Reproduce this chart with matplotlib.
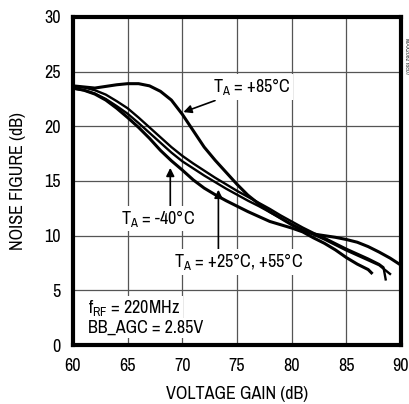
import matplotlib
matplotlib.use("Agg")
import matplotlib.pyplot as plt
import numpy as np

plt.rcParams["font.family"] = ["Nimbus Sans Narrow", "Liberation Sans Narrow",
                               "Archivo Narrow", "Liberation Sans", "DejaVu Sans"]

# noise figure vs voltage gain
gain_85 = [60, 61, 62, 63, 64, 65, 66, 67, 68, 69, 70, 71, 72, 73, 74, 75, 76, 77,
           78, 79, 80, 81, 82, 83, 84, 85, 86, 87, 88, 89, 90]
nf_85 = [23.7, 23.6, 23.5, 23.65, 23.8, 23.9, 23.9, 23.7, 23.2, 22.4, 21.1, 19.6,
         18.1, 16.9, 15.8, 14.7, 13.7, 12.9, 12.2, 11.6, 11.0, 10.5, 10.15, 10.0,
         9.85, 9.65, 9.4, 9.0, 8.5, 7.95, 7.3]

gain_25 = [60, 61, 62, 63, 64, 65, 66, 67, 68, 69, 70, 71, 72, 73, 74, 75, 76, 77,
           78, 79, 80, 81, 82, 83, 84, 85, 86, 87, 88, 88.4, 88.6]
nf_25 = [23.7, 23.55, 23.3, 22.9, 22.3, 21.65, 20.8, 19.9, 19.0, 18.1, 17.3,
         16.6, 15.95, 15.3, 14.7, 14.1, 13.55, 13.0, 12.45, 11.85, 11.3, 10.75,
         10.25, 9.8, 9.3, 8.8, 8.35, 7.9, 7.4, 7.1, 6.0]

gain_55 = [60, 61, 62, 63, 64, 65, 66, 67, 68, 69, 70, 71, 72, 73, 74, 75, 76, 77,
           78, 79, 80, 81, 82, 83, 84, 85, 86, 87, 88, 88.5, 89.0]
nf_55 = [23.45, 23.3, 23.0, 22.5, 21.85, 21.15, 20.3, 19.4, 18.5, 17.6, 16.8,
         16.15, 15.5, 14.9, 14.3, 13.75, 13.2, 12.7, 12.15, 11.6, 11.05, 10.55,
         10.1, 9.65, 9.15, 8.65, 8.2, 7.75, 7.3, 6.9, 6.5]

gain_m40 = [60, 61, 62, 63, 64, 65, 66, 67, 68, 69, 70, 71, 72, 73, 74, 75, 76,
            77, 78, 79, 80, 81, 82, 83, 84, 85, 86, 87, 87.3]
nf_m40 = [23.5, 23.3, 22.95, 22.4, 21.65, 20.8, 19.9, 18.9, 17.8, 16.85, 16.0, 15.1,
          14.35, 13.75, 13.2, 12.7, 12.2, 11.75, 11.3, 11.0, 10.7, 10.35, 9.8, 9.3,
          8.7, 8.0, 7.4, 6.9, 6.6]

xticks = [60, 65, 70, 75, 80, 85, 90]
yticks = [0, 5, 10, 15, 20, 25, 30]


def main():
    fig = plt.figure(figsize=(4.10, 4.04), dpi=100)
    ax = fig.add_axes([0.178, 0.146, 0.800, 0.812])

    for gx, ny in [(gain_85, nf_85), (gain_m40, nf_m40)]:
        ax.plot(gx, ny, color="black", linewidth=2.2, zorder=3)
    # 25/55 degC traces, close together like a double line
    for gx, ny in [(gain_25, nf_25), (gain_55, nf_55)]:
        ax.plot(gx, ny, color="black", linewidth=1.7, zorder=3)

    ax.set_xlim(60, 90)
    ax.set_ylim(0, 30)
    ax.set_xticks(xticks)
    ax.set_yticks(yticks)
    ax.grid(True, color="#555555", linewidth=0.9)
    ax.set_axisbelow(True)
    ax.tick_params(axis="both", length=0, labelsize=13, pad=9)
    for sp in ax.spines.values():
        sp.set_linewidth(3)
    ax.set_xlabel("VOLTAGE GAIN (dB)", fontsize=13, labelpad=9)
    ax.set_ylabel("NOISE FIGURE (dB)", fontsize=13, labelpad=13)

    box = dict(facecolor="white", edgecolor="none", pad=1.5)
    arrow = dict(arrowstyle="-|>", color="black", linewidth=1.2, mutation_scale=12)

    ax.annotate("T$_\\mathregular{A}$ = +85°C", xy=(70.1, 21.3), xytext=(76.4, 23.6),
                ha="center", va="center", fontsize=13, bbox=box,
                arrowprops=dict(arrow, shrinkA=2, shrinkB=0), zorder=5)
    ax.annotate("", xy=(68.9, 16.2), xytext=(68.9, 12.6),
                arrowprops=dict(arrow, shrinkA=0, shrinkB=0), zorder=4)
    ax.text(67.8, 11.6, "T$_\\mathregular{A}$ = -40°C", ha="center", va="center",
            fontsize=13, bbox=box, zorder=5)
    ax.annotate("", xy=(73.3, 14.2), xytext=(73.3, 8.6),
                arrowprops=dict(arrow, shrinkA=0, shrinkB=0), zorder=4)
    ax.text(75.1, 7.6, "T$_\\mathregular{A}$ = +25°C, +55°C", ha="center", va="center",
            fontsize=13, bbox=box, zorder=5)

    ax.text(61.4, 3.4, "f$_\\mathregular{RF}$ = 220MHz", ha="left", va="center",
            fontsize=13, bbox=box, zorder=5)
    ax.text(61.4, 1.55, "BB_AGC = 2.85V", ha="left", va="center",
            fontsize=13, bbox=box, zorder=5)

    fig.text(0.992, 0.86, "MAX2082 toc07", rotation=-90, fontsize=4.5,
             ha="center", va="center", color="#333333")

    fig.savefig("out.png", dpi=100)
    plt.close(fig)


if __name__ == "__main__":
    main()
